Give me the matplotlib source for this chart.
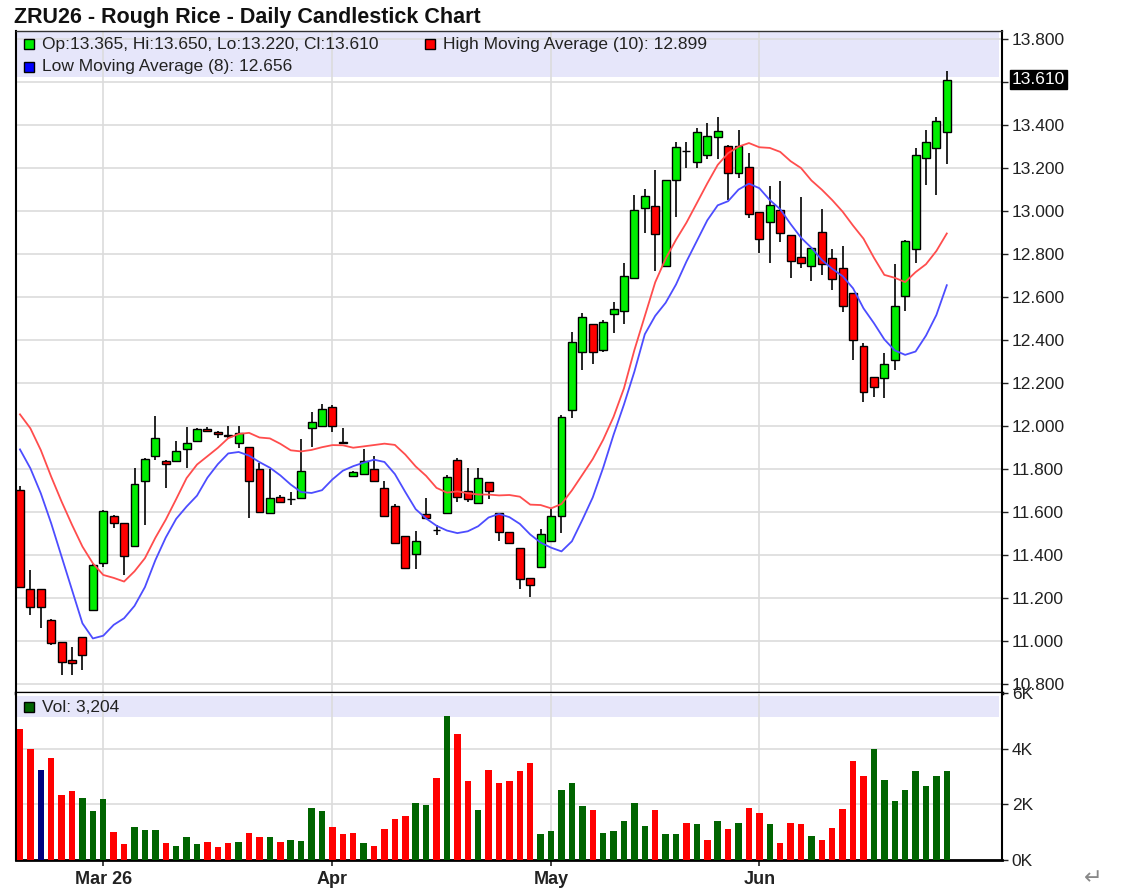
import matplotlib
matplotlib.use("Agg")
import matplotlib.pyplot as plt
from matplotlib.patches import Rectangle
import numpy as np

plt.rcParams['font.family'] = ['Liberation Sans', 'DejaVu Sans']

# daily OHLC for ZRU26 (oldest first)
opens = [11.700, 11.240, 11.240, 11.098, 10.994, 10.912, 11.020, 11.144, 11.361, 11.581,
         11.550, 11.443, 11.744, 11.860, 11.837, 11.837, 11.892, 11.930, 11.988, 11.974,
         11.958, 11.919, 11.904, 11.798, 11.597, 11.671, 11.658, 11.667, 11.989, 12.000,
         12.090, 11.927, 11.768, 11.775, 11.798, 11.713, 11.628, 11.488, 11.403, 11.589,
         11.517, 11.597, 11.842, 11.698, 11.643, 11.741, 11.594, 11.509, 11.434, 11.295,
         11.346, 11.465, 11.581, 12.074, 12.345, 12.473, 12.353, 12.519, 12.536, 12.690,
         13.015, 13.023, 12.745, 13.144, 13.279, 13.229, 13.260, 13.345, 13.302, 13.178,
         13.203, 12.994, 12.947, 13.003, 12.890, 12.788, 12.744, 12.904, 12.780, 12.734,
         12.620, 12.372, 12.226, 12.222, 12.307, 12.605, 12.822, 13.245, 13.292, 13.365]
highs = [11.720, 11.330, 11.240, 11.100, 10.995, 10.974, 11.020, 11.360, 11.610, 11.585,
         11.550, 11.806, 11.850, 12.047, 11.840, 11.930, 11.997, 11.990, 11.997, 11.975,
         12.000, 12.000, 11.904, 11.830, 11.798, 11.680, 11.694, 11.938, 12.067, 12.101,
         12.098, 11.992, 11.790, 11.892, 11.861, 11.744, 11.636, 11.490, 11.512, 11.664,
         11.540, 11.770, 11.850, 11.803, 11.803, 11.741, 11.597, 11.509, 11.434, 11.295,
         11.520, 11.617, 12.050, 12.438, 12.527, 12.473, 12.493, 12.578, 12.760, 13.074,
         13.100, 13.190, 13.145, 13.322, 13.322, 13.384, 13.407, 13.438, 13.307, 13.376,
         13.268, 12.994, 13.114, 13.138, 12.890, 13.064, 12.830, 13.008, 12.822, 12.837,
         12.620, 12.388, 12.230, 12.338, 12.754, 12.865, 13.292, 13.377, 13.439, 13.650]
lows = [11.245, 11.120, 11.060, 10.980, 10.842, 10.842, 10.865, 11.140, 11.346, 11.524,
        11.307, 11.440, 11.540, 11.842, 11.710, 11.835, 11.803, 11.930, 11.975, 11.943,
        11.940, 11.896, 11.574, 11.594, 11.595, 11.645, 11.633, 11.665, 11.904, 12.000,
        11.974, 11.918, 11.765, 11.775, 11.744, 11.580, 11.455, 11.333, 11.333, 11.574,
        11.493, 11.597, 11.648, 11.648, 11.643, 11.659, 11.465, 11.454, 11.242, 11.203,
        11.346, 11.460, 11.504, 12.035, 12.260, 12.290, 12.345, 12.431, 12.474, 12.682,
        12.896, 12.720, 12.745, 12.973, 13.198, 13.198, 13.240, 13.240, 13.050, 13.152,
        12.966, 12.803, 12.758, 12.857, 12.688, 12.733, 12.672, 12.702, 12.633, 12.529,
        12.307, 12.113, 12.137, 12.129, 12.261, 12.537, 12.757, 13.121, 13.075, 13.220]
closes = [11.250, 11.160, 11.160, 10.989, 10.904, 10.896, 10.935, 11.354, 11.605, 11.550,
          11.397, 11.729, 11.845, 11.946, 11.822, 11.884, 11.923, 11.988, 11.977, 11.961,
          11.955, 11.966, 11.744, 11.602, 11.664, 11.648, 11.660, 11.791, 12.020, 12.079,
          12.000, 11.920, 11.788, 11.837, 11.744, 11.581, 11.457, 11.341, 11.465, 11.574,
          11.515, 11.764, 11.671, 11.659, 11.757, 11.698, 11.505, 11.454, 11.288, 11.261,
          11.496, 11.581, 12.043, 12.389, 12.505, 12.345, 12.485, 12.542, 12.697, 13.004,
          13.071, 12.891, 13.144, 13.296, 13.277, 13.366, 13.350, 13.373, 13.178, 13.302,
          12.986, 12.868, 13.026, 12.898, 12.767, 12.760, 12.827, 12.752, 12.682, 12.560,
          12.400, 12.160, 12.183, 12.288, 12.560, 12.861, 13.261, 13.323, 13.420, 13.610]
volumes = [4700, 3980, 3250, 3670, 2350, 2470, 2230, 1750, 2190, 1020,
           570, 1170, 1080, 1080, 610, 510, 810, 570, 660, 450,
           610, 660, 960, 810, 810, 660, 730, 690, 1880, 1750,
           1170, 920, 980, 610, 490, 1100, 1460, 1580, 2050, 1990,
           2950, 5160, 4510, 2830, 1810, 3250, 2770, 2830, 3190, 3490,
           920, 1040, 2530, 2770, 1930, 1810, 980, 1040, 1400, 2050,
           1220, 1810, 920, 920, 1340, 1280, 730, 1400, 1100, 1340,
           1880, 1700, 1280, 610, 1340, 1280, 860, 730, 1160, 1820,
           3550, 3010, 3980, 2890, 2110, 2530, 3190, 2650, 3010, 3204]

# moving average values before the window fills (history not on chart)
ma_high_head = [12.054, 11.989, 11.888, 11.764, 11.648, 11.540, 11.439, 11.361, 11.307]
ma_low_head = [11.891, 11.803, 11.687, 11.547, 11.392, 11.237, 11.082]

month_pos = [8, 30, 51, 71]
month_labels = ['Mar 26', 'Apr', 'May', 'Jun']
price_ticks = [10.8, 11.0, 11.2, 11.4, 11.6, 11.8, 12.0, 12.2, 12.4, 12.6, 12.8, 13.0, 13.2, 13.4, 13.6, 13.8]
vol_ticks = [0, 2000, 4000, 6000]
highlight_vol = 2

n = len(closes)
x = np.arange(n)
highs_a = np.array(highs)
lows_a = np.array(lows)
ma_high = np.array(ma_high_head + [highs_a[i - 9:i + 1].mean() for i in range(9, n)])
ma_low = np.array(ma_low_head + [lows_a[i - 7:i + 1].mean() for i in range(7, n)])

W, H = 1125, 891
fig = plt.figure(figsize=(W / 100, H / 100), dpi=100)
fig.patch.set_facecolor('white')


def fx(px):
    return px / W


def fy(py):
    return 1 - py / H


ax = fig.add_axes([fx(16), fy(693), fx(1002) - fx(16), fy(31) - fy(693)])
axv = fig.add_axes([fx(16), fy(860), fx(1002) - fx(16), fy(693) - fy(860)], sharex=ax)

GRID = '#dcdcdc'
CANDLE_UP = '#00ee00'
CANDLE_DN = '#ff0000'
VOL_UP = '#006400'
VOL_DN = '#ff0000'

# --- price panel ---
ax.add_patch(Rectangle((0, 1 - 46 / 662), 0.997, 46 / 662, transform=ax.transAxes,
                       facecolor='#e6e6fa', edgecolor='none', zorder=0.2))
for i in range(n):
    o, h, l, c = opens[i], highs[i], lows[i], closes[i]
    ax.vlines(i, l, h, color='black', lw=1.2, zorder=3)
    col = CANDLE_UP if c >= o else CANDLE_DN
    bot = min(o, c)
    hgt = max(abs(c - o), 0.002)
    ax.add_patch(Rectangle((i - 0.38, bot), 0.76, hgt, facecolor=col,
                           edgecolor='black', lw=1.0, zorder=4))

ax.plot(x, ma_high, color='#ff4d4d', lw=1.3, zorder=5)
ax.plot(x, ma_low, color='#4d4dff', lw=1.3, zorder=5)

ax.set_xlim(-0.38, 94.3)
ax.set_ylim(10.758, 13.837)
ax.set_axisbelow(True)
ax.yaxis.tick_right()
ax.set_yticks(price_ticks)
ax.set_yticklabels(['' if abs(t - 13.6) < 1e-6 else f'{t:.3f}' for t in price_ticks])
ax.tick_params(axis='y', direction='out', length=4, width=1, colors='#222222',
               labelsize=12.5, pad=3)
ax.tick_params(axis='x', length=0, labelbottom=False)
ax.set_xticks(month_pos)
ax.grid(True, color=GRID, lw=1.2)
for s in ['left', 'right']:
    ax.spines[s].set_linewidth(1.5)
ax.spines['top'].set_linewidth(1.0)
ax.spines['top'].set_color('#333333')
ax.spines['bottom'].set_linewidth(2.5)

ax.text(1.0 + 10 / 986, closes[-1], f'{closes[-1]:.3f}', transform=ax.get_yaxis_transform(),
        ha='left', va='center', color='white', fontsize=12.5,
        bbox=dict(boxstyle='square,pad=0.12', facecolor='black', edgecolor='black'))

# --- volume panel ---
axv.add_patch(Rectangle((0, 1 - 24 / 167), 0.997, 21 / 167, transform=axv.transAxes,
                        facecolor='#e6e6fa', edgecolor='none', zorder=0.2))
vol_colors = []
for i in range(n):
    if i == highlight_vol:
        vol_colors.append('#000080')
    elif i > 0 and closes[i] >= closes[i - 1]:
        vol_colors.append(VOL_UP)
    else:
        vol_colors.append(VOL_DN)
axv.bar(x, volumes, width=0.62, color=vol_colors, zorder=3)
axv.set_ylim(0, 6000)
axv.set_axisbelow(True)
axv.yaxis.tick_right()
axv.set_yticks(vol_ticks)
axv.set_yticklabels([f'{v // 1000}K' for v in vol_ticks])
axv.tick_params(axis='y', direction='out', length=4, width=1, colors='#222222',
                labelsize=12.5, pad=3)
axv.set_xticks(month_pos)
axv.set_xticklabels(month_labels, fontweight='bold')
axv.tick_params(axis='x', direction='out', length=4, width=1.2, colors='#222222',
                labelsize=13, pad=4)
axv.grid(True, color=GRID, lw=1.2)
for s in ['left', 'right']:
    axv.spines[s].set_linewidth(1.5)
axv.spines['top'].set_visible(False)
axv.spines['bottom'].set_linewidth(2.0)

# --- title and legends ---
fig.text(fx(14), fy(17), 'ZRU26 - Rough Rice - Daily Candlestick Chart', fontsize=15.5,
         fontweight='bold', color='#111111', ha='left', va='center')


def legend_item(px, py, color, label):
    fig.add_artist(Rectangle((fx(px), fy(py + 5)), 10 / W, 10 / H, transform=fig.transFigure,
                             facecolor=color, edgecolor='black', lw=1.0))
    fig.text(fx(px + 18), fy(py), label, fontsize=12.5, color='#222222',
             ha='left', va='center')


legend_item(24, 44, CANDLE_UP,
            f'Op:{opens[-1]:.3f}, Hi:{highs[-1]:.3f}, Lo:{lows[-1]:.3f}, Cl:{closes[-1]:.3f}')
legend_item(425, 44, CANDLE_DN, 'High Moving Average (10): 12.899')
legend_item(24, 67, '#0000ff', 'Low Moving Average (8): 12.656')
legend_item(24, 707, VOL_UP, f'Vol: {volumes[-1]:,}')

fig.text(fx(1093), fy(878), '\u21b5', fontsize=16, color='#888888', ha='center', va='center',
         family='DejaVu Sans')

fig.savefig('out.png', dpi=100)
